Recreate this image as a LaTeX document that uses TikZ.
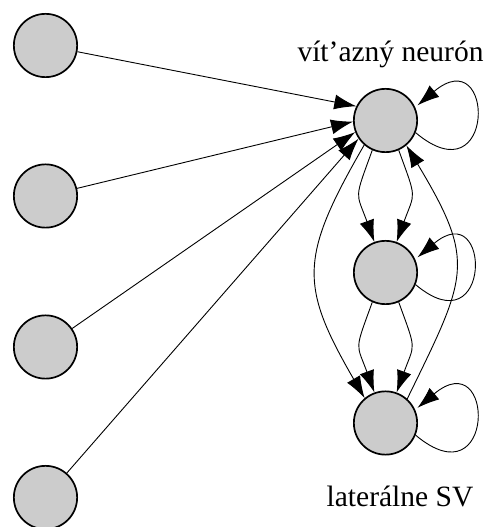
\documentclass[tikz,border=0pt]{standalone}
\usepackage{fontspec}
\setmainfont{Liberation Serif}
\usetikzlibrary{arrows.meta}
\begin{document}
\begin{tikzpicture}[x=1pt,y=1pt,
  neuron/.style={circle,draw=black,line width=1.7pt,fill=black!20,minimum size=63.3pt,inner sep=0pt},
  conn/.style={line width=0.9pt,-{Latex[length=22pt,width=15pt]}},
  lbl/.style={anchor=base,inner sep=0pt,font=\fontsize{29.5}{34}\selectfont}]
\useasboundingbox (0,0) rectangle (486,527);
\node[neuron] (L1) at (45.5,481.5) {};
\node[neuron] (L2) at (45.5,331) {};
\node[neuron] (L3) at (45.5,180) {};
\node[neuron] (L4) at (45.5,29.5) {};
\node[neuron] (T) at (385.5,406.5) {};
\node[neuron] (M) at (385.5,254.5) {};
\node[neuron] (B) at (385.5,104) {};
\node[lbl] (lt) at (390.5,465.3) {vít’azný neurón};
\node[lbl] (lb) at (400,20.3) {laterálne SV};
\draw[conn] (L1) -- (T.154);
\draw[conn] (L2) -- (T.182);
\draw[conn] (L3) -- (T.201);
\draw[conn] (L4) -- (T.214);
\draw[conn] (T.-114) to[out=-110,in=110,looseness=1.5] (M.110);
\draw[conn] (T.-66) to[out=-70,in=70,looseness=1.5] (M.70);
\draw[conn] (M.-114) to[out=-110,in=110,looseness=1.5] (B.110);
\draw[conn] (M.-66) to[out=-70,in=70,looseness=1.5] (B.70);
\draw[conn] (T.-131) to[out=-120,in=120,looseness=1.32] (B.130);
\draw[conn] (B.48) to[out=64,in=-59,looseness=1.38] (T.-50);
\draw[conn,shorten >=3pt] (T.-22) .. controls +(-40:105) and +(40:105) .. (T.24);
\draw[conn,shorten >=3pt] (M.-22) .. controls +(-40:100) and +(40:100) .. (M.24);
\draw[conn,shorten >=3pt] (B.-22) .. controls +(-40:105) and +(40:105) .. (B.24);
\end{tikzpicture}
\end{document}
